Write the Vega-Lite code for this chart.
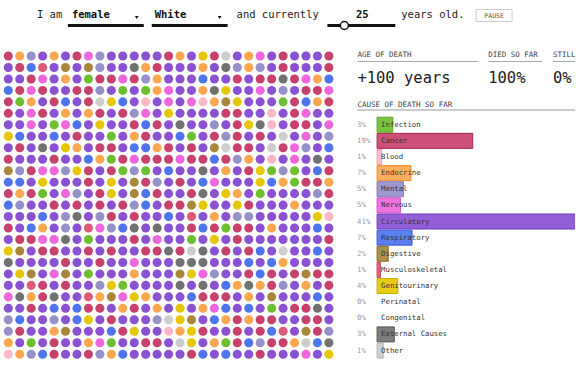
{"$schema":"https://vega.github.io/schema/vega-lite/v6.json","width":576,"height":376,"autosize":{"type":"fit","contains":"padding"},"padding":0,"background":"#ffffff",
"config":{"view":{"stroke":null},"font":"DejaVu Sans Mono","text":{"font":"DejaVu Sans Mono"}},
"datasets":{"dots":[
{"c":0,"r":0,"k":"C"},{"c":1,"r":0,"k":"E"},{"c":2,"r":0,"k":"M"},{"c":3,"r":0,"k":"P"},{"c":4,"r":0,"k":"E"},{"c":5,"r":0,"k":"P"},{"c":6,"r":0,"k":"C"},{"c":7,"r":0,"k":"N"},{"c":8,"r":0,"k":"M"},{"c":9,"r":0,"k":"P"},{"c":10,"r":0,"k":"P"},{"c":11,"r":0,"k":"P"},{"c":12,"r":0,"k":"P"},{"c":13,"r":0,"k":"P"},{"c":14,"r":0,"k":"C"},{"c":15,"r":0,"k":"E"},{"c":16,"r":0,"k":"P"},{"c":17,"r":0,"k":"G"},{"c":18,"r":0,"k":"C"},{"c":19,"r":0,"k":"O"},{"c":20,"r":0,"k":"P"},{"c":21,"r":0,"k":"E"},{"c":22,"r":0,"k":"N"},{"c":23,"r":0,"k":"P"},{"c":24,"r":0,"k":"C"},{"c":25,"r":0,"k":"P"},{"c":26,"r":0,"k":"P"},{"c":27,"r":0,"k":"P"},{"c":28,"r":0,"k":"C"},
{"c":0,"r":1,"k":"P"},{"c":1,"r":1,"k":"C"},{"c":2,"r":1,"k":"R"},{"c":3,"r":1,"k":"K"},{"c":4,"r":1,"k":"P"},{"c":5,"r":1,"k":"D"},{"c":6,"r":1,"k":"P"},{"c":7,"r":1,"k":"D"},{"c":8,"r":1,"k":"M"},{"c":9,"r":1,"k":"P"},{"c":10,"r":1,"k":"P"},{"c":11,"r":1,"k":"X"},{"c":12,"r":1,"k":"E"},{"c":13,"r":1,"k":"C"},{"c":14,"r":1,"k":"P"},{"c":15,"r":1,"k":"P"},{"c":16,"r":1,"k":"P"},{"c":17,"r":1,"k":"E"},{"c":18,"r":1,"k":"P"},{"c":19,"r":1,"k":"X"},{"c":20,"r":1,"k":"M"},{"c":21,"r":1,"k":"E"},{"c":22,"r":1,"k":"M"},{"c":23,"r":1,"k":"P"},{"c":24,"r":1,"k":"C"},{"c":25,"r":1,"k":"P"},{"c":26,"r":1,"k":"P"},{"c":27,"r":1,"k":"P"},{"c":28,"r":1,"k":"C"},
{"c":0,"r":2,"k":"P"},{"c":1,"r":2,"k":"P"},{"c":2,"r":2,"k":"C"},{"c":3,"r":2,"k":"N"},{"c":4,"r":2,"k":"P"},{"c":5,"r":2,"k":"E"},{"c":6,"r":2,"k":"P"},{"c":7,"r":2,"k":"I"},{"c":8,"r":2,"k":"C"},{"c":9,"r":2,"k":"C"},{"c":10,"r":2,"k":"N"},{"c":11,"r":2,"k":"C"},{"c":12,"r":2,"k":"M"},{"c":13,"r":2,"k":"E"},{"c":14,"r":2,"k":"P"},{"c":15,"r":2,"k":"P"},{"c":16,"r":2,"k":"P"},{"c":17,"r":2,"k":"R"},{"c":18,"r":2,"k":"P"},{"c":19,"r":2,"k":"P"},{"c":20,"r":2,"k":"C"},{"c":21,"r":2,"k":"P"},{"c":22,"r":2,"k":"C"},{"c":23,"r":2,"k":"C"},{"c":24,"r":2,"k":"X"},{"c":25,"r":2,"k":"C"},{"c":26,"r":2,"k":"N"},{"c":27,"r":2,"k":"E"},{"c":28,"r":2,"k":"R"},
{"c":0,"r":3,"k":"R"},{"c":1,"r":3,"k":"C"},{"c":2,"r":3,"k":"N"},{"c":3,"r":3,"k":"C"},{"c":4,"r":3,"k":"P"},{"c":5,"r":3,"k":"P"},{"c":6,"r":3,"k":"C"},{"c":7,"r":3,"k":"C"},{"c":8,"r":3,"k":"M"},{"c":9,"r":3,"k":"P"},{"c":10,"r":3,"k":"I"},{"c":11,"r":3,"k":"P"},{"c":12,"r":3,"k":"I"},{"c":13,"r":3,"k":"E"},{"c":14,"r":3,"k":"N"},{"c":15,"r":3,"k":"P"},{"c":16,"r":3,"k":"P"},{"c":17,"r":3,"k":"E"},{"c":18,"r":3,"k":"X"},{"c":19,"r":3,"k":"G"},{"c":20,"r":3,"k":"P"},{"c":21,"r":3,"k":"P"},{"c":22,"r":3,"k":"N"},{"c":23,"r":3,"k":"P"},{"c":24,"r":3,"k":"M"},{"c":25,"r":3,"k":"P"},{"c":26,"r":3,"k":"C"},{"c":27,"r":3,"k":"C"},{"c":28,"r":3,"k":"N"},
{"c":0,"r":4,"k":"C"},{"c":1,"r":4,"k":"I"},{"c":2,"r":4,"k":"E"},{"c":3,"r":4,"k":"P"},{"c":4,"r":4,"k":"C"},{"c":5,"r":4,"k":"R"},{"c":6,"r":4,"k":"P"},{"c":7,"r":4,"k":"C"},{"c":8,"r":4,"k":"O"},{"c":9,"r":4,"k":"G"},{"c":10,"r":4,"k":"R"},{"c":11,"r":4,"k":"P"},{"c":12,"r":4,"k":"B"},{"c":13,"r":4,"k":"P"},{"c":14,"r":4,"k":"N"},{"c":15,"r":4,"k":"P"},{"c":16,"r":4,"k":"N"},{"c":17,"r":4,"k":"B"},{"c":18,"r":4,"k":"E"},{"c":19,"r":4,"k":"D"},{"c":20,"r":4,"k":"G"},{"c":21,"r":4,"k":"P"},{"c":22,"r":4,"k":"P"},{"c":23,"r":4,"k":"P"},{"c":24,"r":4,"k":"I"},{"c":25,"r":4,"k":"C"},{"c":26,"r":4,"k":"R"},{"c":27,"r":4,"k":"E"},{"c":28,"r":4,"k":"C"},
{"c":0,"r":5,"k":"C"},{"c":1,"r":5,"k":"P"},{"c":2,"r":5,"k":"N"},{"c":3,"r":5,"k":"C"},{"c":4,"r":5,"k":"P"},{"c":5,"r":5,"k":"E"},{"c":6,"r":5,"k":"P"},{"c":7,"r":5,"k":"E"},{"c":8,"r":5,"k":"C"},{"c":9,"r":5,"k":"P"},{"c":10,"r":5,"k":"C"},{"c":11,"r":5,"k":"M"},{"c":12,"r":5,"k":"N"},{"c":13,"r":5,"k":"P"},{"c":14,"r":5,"k":"G"},{"c":15,"r":5,"k":"P"},{"c":16,"r":5,"k":"P"},{"c":17,"r":5,"k":"P"},{"c":18,"r":5,"k":"P"},{"c":19,"r":5,"k":"C"},{"c":20,"r":5,"k":"C"},{"c":21,"r":5,"k":"P"},{"c":22,"r":5,"k":"P"},{"c":23,"r":5,"k":"B"},{"c":24,"r":5,"k":"P"},{"c":25,"r":5,"k":"C"},{"c":26,"r":5,"k":"N"},{"c":27,"r":5,"k":"P"},{"c":28,"r":5,"k":"P"},
{"c":0,"r":6,"k":"P"},{"c":1,"r":6,"k":"P"},{"c":2,"r":6,"k":"N"},{"c":3,"r":6,"k":"P"},{"c":4,"r":6,"k":"I"},{"c":5,"r":6,"k":"N"},{"c":6,"r":6,"k":"R"},{"c":7,"r":6,"k":"P"},{"c":8,"r":6,"k":"G"},{"c":9,"r":6,"k":"P"},{"c":10,"r":6,"k":"P"},{"c":11,"r":6,"k":"C"},{"c":12,"r":6,"k":"R"},{"c":13,"r":6,"k":"C"},{"c":14,"r":6,"k":"P"},{"c":15,"r":6,"k":"X"},{"c":16,"r":6,"k":"P"},{"c":17,"r":6,"k":"P"},{"c":18,"r":6,"k":"M"},{"c":19,"r":6,"k":"P"},{"c":20,"r":6,"k":"C"},{"c":21,"r":6,"k":"G"},{"c":22,"r":6,"k":"X"},{"c":23,"r":6,"k":"B"},{"c":24,"r":6,"k":"P"},{"c":25,"r":6,"k":"C"},{"c":26,"r":6,"k":"C"},{"c":27,"r":6,"k":"P"},{"c":28,"r":6,"k":"N"},
{"c":0,"r":7,"k":"G"},{"c":1,"r":7,"k":"R"},{"c":2,"r":7,"k":"P"},{"c":3,"r":7,"k":"P"},{"c":4,"r":7,"k":"R"},{"c":5,"r":7,"k":"P"},{"c":6,"r":7,"k":"C"},{"c":7,"r":7,"k":"P"},{"c":8,"r":7,"k":"P"},{"c":9,"r":7,"k":"I"},{"c":10,"r":7,"k":"P"},{"c":11,"r":7,"k":"E"},{"c":12,"r":7,"k":"C"},{"c":13,"r":7,"k":"P"},{"c":14,"r":7,"k":"P"},{"c":15,"r":7,"k":"R"},{"c":16,"r":7,"k":"I"},{"c":17,"r":7,"k":"P"},{"c":18,"r":7,"k":"C"},{"c":19,"r":7,"k":"M"},{"c":20,"r":7,"k":"C"},{"c":21,"r":7,"k":"P"},{"c":22,"r":7,"k":"C"},{"c":23,"r":7,"k":"P"},{"c":24,"r":7,"k":"O"},{"c":25,"r":7,"k":"P"},{"c":26,"r":7,"k":"N"},{"c":27,"r":7,"k":"P"},{"c":28,"r":7,"k":"M"},
{"c":0,"r":8,"k":"P"},{"c":1,"r":8,"k":"C"},{"c":2,"r":8,"k":"P"},{"c":3,"r":8,"k":"X"},{"c":4,"r":8,"k":"P"},{"c":5,"r":8,"k":"G"},{"c":6,"r":8,"k":"E"},{"c":7,"r":8,"k":"P"},{"c":8,"r":8,"k":"C"},{"c":9,"r":8,"k":"C"},{"c":10,"r":8,"k":"P"},{"c":11,"r":8,"k":"R"},{"c":12,"r":8,"k":"R"},{"c":13,"r":8,"k":"E"},{"c":14,"r":8,"k":"C"},{"c":15,"r":8,"k":"P"},{"c":16,"r":8,"k":"C"},{"c":17,"r":8,"k":"P"},{"c":18,"r":8,"k":"D"},{"c":19,"r":8,"k":"O"},{"c":20,"r":8,"k":"C"},{"c":21,"r":8,"k":"C"},{"c":22,"r":8,"k":"P"},{"c":23,"r":8,"k":"O"},{"c":24,"r":8,"k":"C"},{"c":25,"r":8,"k":"N"},{"c":26,"r":8,"k":"M"},{"c":27,"r":8,"k":"P"},{"c":28,"r":8,"k":"R"},
{"c":0,"r":9,"k":"C"},{"c":1,"r":9,"k":"P"},{"c":2,"r":9,"k":"P"},{"c":3,"r":9,"k":"P"},{"c":4,"r":9,"k":"C"},{"c":5,"r":9,"k":"P"},{"c":6,"r":9,"k":"P"},{"c":7,"r":9,"k":"R"},{"c":8,"r":9,"k":"E"},{"c":9,"r":9,"k":"I"},{"c":10,"r":9,"k":"C"},{"c":11,"r":9,"k":"N"},{"c":12,"r":9,"k":"C"},{"c":13,"r":9,"k":"C"},{"c":14,"r":9,"k":"C"},{"c":15,"r":9,"k":"N"},{"c":16,"r":9,"k":"C"},{"c":17,"r":9,"k":"C"},{"c":18,"r":9,"k":"R"},{"c":19,"r":9,"k":"C"},{"c":20,"r":9,"k":"M"},{"c":21,"r":9,"k":"E"},{"c":22,"r":9,"k":"P"},{"c":23,"r":9,"k":"B"},{"c":24,"r":9,"k":"P"},{"c":25,"r":9,"k":"N"},{"c":26,"r":9,"k":"P"},{"c":27,"r":9,"k":"X"},{"c":28,"r":9,"k":"P"},
{"c":0,"r":10,"k":"D"},{"c":1,"r":10,"k":"M"},{"c":2,"r":10,"k":"C"},{"c":3,"r":10,"k":"N"},{"c":4,"r":10,"k":"N"},{"c":5,"r":10,"k":"M"},{"c":6,"r":10,"k":"G"},{"c":7,"r":10,"k":"C"},{"c":8,"r":10,"k":"P"},{"c":9,"r":10,"k":"C"},{"c":10,"r":10,"k":"I"},{"c":11,"r":10,"k":"M"},{"c":12,"r":10,"k":"I"},{"c":13,"r":10,"k":"P"},{"c":14,"r":10,"k":"R"},{"c":15,"r":10,"k":"P"},{"c":16,"r":10,"k":"P"},{"c":17,"r":10,"k":"X"},{"c":18,"r":10,"k":"P"},{"c":19,"r":10,"k":"E"},{"c":20,"r":10,"k":"P"},{"c":21,"r":10,"k":"C"},{"c":22,"r":10,"k":"G"},{"c":23,"r":10,"k":"I"},{"c":24,"r":10,"k":"M"},{"c":25,"r":10,"k":"I"},{"c":26,"r":10,"k":"P"},{"c":27,"r":10,"k":"R"},{"c":28,"r":10,"k":"C"},
{"c":0,"r":11,"k":"R"},{"c":1,"r":11,"k":"R"},{"c":2,"r":11,"k":"P"},{"c":3,"r":11,"k":"G"},{"c":4,"r":11,"k":"P"},{"c":5,"r":11,"k":"P"},{"c":6,"r":11,"k":"P"},{"c":7,"r":11,"k":"C"},{"c":8,"r":11,"k":"P"},{"c":9,"r":11,"k":"G"},{"c":10,"r":11,"k":"P"},{"c":11,"r":11,"k":"D"},{"c":12,"r":11,"k":"C"},{"c":13,"r":11,"k":"M"},{"c":14,"r":11,"k":"P"},{"c":15,"r":11,"k":"C"},{"c":16,"r":11,"k":"P"},{"c":17,"r":11,"k":"R"},{"c":18,"r":11,"k":"N"},{"c":19,"r":11,"k":"P"},{"c":20,"r":11,"k":"P"},{"c":21,"r":11,"k":"P"},{"c":22,"r":11,"k":"G"},{"c":23,"r":11,"k":"R"},{"c":24,"r":11,"k":"E"},{"c":25,"r":11,"k":"I"},{"c":26,"r":11,"k":"C"},{"c":27,"r":11,"k":"C"},{"c":28,"r":11,"k":"E"},
{"c":0,"r":12,"k":"C"},{"c":1,"r":12,"k":"E"},{"c":2,"r":12,"k":"C"},{"c":3,"r":12,"k":"I"},{"c":4,"r":12,"k":"P"},{"c":5,"r":12,"k":"N"},{"c":6,"r":12,"k":"M"},{"c":7,"r":12,"k":"P"},{"c":8,"r":12,"k":"C"},{"c":9,"r":12,"k":"G"},{"c":10,"r":12,"k":"P"},{"c":11,"r":12,"k":"D"},{"c":12,"r":12,"k":"R"},{"c":13,"r":12,"k":"C"},{"c":14,"r":12,"k":"P"},{"c":15,"r":12,"k":"P"},{"c":16,"r":12,"k":"C"},{"c":17,"r":12,"k":"X"},{"c":18,"r":12,"k":"P"},{"c":19,"r":12,"k":"G"},{"c":20,"r":12,"k":"E"},{"c":21,"r":12,"k":"P"},{"c":22,"r":12,"k":"I"},{"c":23,"r":12,"k":"P"},{"c":24,"r":12,"k":"P"},{"c":25,"r":12,"k":"P"},{"c":26,"r":12,"k":"P"},{"c":27,"r":12,"k":"M"},{"c":28,"r":12,"k":"C"},
{"c":0,"r":13,"k":"R"},{"c":1,"r":13,"k":"M"},{"c":2,"r":13,"k":"P"},{"c":3,"r":13,"k":"P"},{"c":4,"r":13,"k":"C"},{"c":5,"r":13,"k":"P"},{"c":6,"r":13,"k":"C"},{"c":7,"r":13,"k":"P"},{"c":8,"r":13,"k":"C"},{"c":9,"r":13,"k":"P"},{"c":10,"r":13,"k":"C"},{"c":11,"r":13,"k":"M"},{"c":12,"r":13,"k":"R"},{"c":13,"r":13,"k":"P"},{"c":14,"r":13,"k":"C"},{"c":15,"r":13,"k":"C"},{"c":16,"r":13,"k":"D"},{"c":17,"r":13,"k":"G"},{"c":18,"r":13,"k":"P"},{"c":19,"r":13,"k":"P"},{"c":20,"r":13,"k":"G"},{"c":21,"r":13,"k":"C"},{"c":22,"r":13,"k":"P"},{"c":23,"r":13,"k":"P"},{"c":24,"r":13,"k":"P"},{"c":25,"r":13,"k":"E"},{"c":26,"r":13,"k":"P"},{"c":27,"r":13,"k":"P"},{"c":28,"r":13,"k":"P"},
{"c":0,"r":14,"k":"P"},{"c":1,"r":14,"k":"P"},{"c":2,"r":14,"k":"P"},{"c":3,"r":14,"k":"R"},{"c":4,"r":14,"k":"P"},{"c":5,"r":14,"k":"M"},{"c":6,"r":14,"k":"X"},{"c":7,"r":14,"k":"P"},{"c":8,"r":14,"k":"M"},{"c":9,"r":14,"k":"C"},{"c":10,"r":14,"k":"P"},{"c":11,"r":14,"k":"C"},{"c":12,"r":14,"k":"P"},{"c":13,"r":14,"k":"P"},{"c":14,"r":14,"k":"R"},{"c":15,"r":14,"k":"P"},{"c":16,"r":14,"k":"K"},{"c":17,"r":14,"k":"P"},{"c":18,"r":14,"k":"E"},{"c":19,"r":14,"k":"P"},{"c":20,"r":14,"k":"M"},{"c":21,"r":14,"k":"M"},{"c":22,"r":14,"k":"P"},{"c":23,"r":14,"k":"P"},{"c":24,"r":14,"k":"P"},{"c":25,"r":14,"k":"P"},{"c":26,"r":14,"k":"P"},{"c":27,"r":14,"k":"G"},{"c":28,"r":14,"k":"B"},
{"c":0,"r":15,"k":"C"},{"c":1,"r":15,"k":"P"},{"c":2,"r":15,"k":"R"},{"c":3,"r":15,"k":"E"},{"c":4,"r":15,"k":"P"},{"c":5,"r":15,"k":"M"},{"c":6,"r":15,"k":"P"},{"c":7,"r":15,"k":"K"},{"c":8,"r":15,"k":"N"},{"c":9,"r":15,"k":"M"},{"c":10,"r":15,"k":"R"},{"c":11,"r":15,"k":"X"},{"c":12,"r":15,"k":"P"},{"c":13,"r":15,"k":"X"},{"c":14,"r":15,"k":"P"},{"c":15,"r":15,"k":"P"},{"c":16,"r":15,"k":"C"},{"c":17,"r":15,"k":"R"},{"c":18,"r":15,"k":"C"},{"c":19,"r":15,"k":"I"},{"c":20,"r":15,"k":"C"},{"c":21,"r":15,"k":"C"},{"c":22,"r":15,"k":"P"},{"c":23,"r":15,"k":"E"},{"c":24,"r":15,"k":"P"},{"c":25,"r":15,"k":"P"},{"c":26,"r":15,"k":"P"},{"c":27,"r":15,"k":"R"},{"c":28,"r":15,"k":"P"},
{"c":0,"r":16,"k":"P"},{"c":1,"r":16,"k":"C"},{"c":2,"r":16,"k":"C"},{"c":3,"r":16,"k":"N"},{"c":4,"r":16,"k":"N"},{"c":5,"r":16,"k":"X"},{"c":6,"r":16,"k":"P"},{"c":7,"r":16,"k":"I"},{"c":8,"r":16,"k":"P"},{"c":9,"r":16,"k":"P"},{"c":10,"r":16,"k":"P"},{"c":11,"r":16,"k":"C"},{"c":12,"r":16,"k":"P"},{"c":13,"r":16,"k":"N"},{"c":14,"r":16,"k":"P"},{"c":15,"r":16,"k":"P"},{"c":16,"r":16,"k":"I"},{"c":17,"r":16,"k":"P"},{"c":18,"r":16,"k":"G"},{"c":19,"r":16,"k":"P"},{"c":20,"r":16,"k":"C"},{"c":21,"r":16,"k":"P"},{"c":22,"r":16,"k":"P"},{"c":23,"r":16,"k":"P"},{"c":24,"r":16,"k":"P"},{"c":25,"r":16,"k":"P"},{"c":26,"r":16,"k":"P"},{"c":27,"r":16,"k":"P"},{"c":28,"r":16,"k":"C"},
{"c":0,"r":17,"k":"G"},{"c":1,"r":17,"k":"D"},{"c":2,"r":17,"k":"P"},{"c":3,"r":17,"k":"C"},{"c":4,"r":17,"k":"C"},{"c":5,"r":17,"k":"P"},{"c":6,"r":17,"k":"P"},{"c":7,"r":17,"k":"C"},{"c":8,"r":17,"k":"P"},{"c":9,"r":17,"k":"C"},{"c":10,"r":17,"k":"P"},{"c":11,"r":17,"k":"P"},{"c":12,"r":17,"k":"C"},{"c":13,"r":17,"k":"C"},{"c":14,"r":17,"k":"X"},{"c":15,"r":17,"k":"C"},{"c":16,"r":17,"k":"O"},{"c":17,"r":17,"k":"X"},{"c":18,"r":17,"k":"P"},{"c":19,"r":17,"k":"C"},{"c":20,"r":17,"k":"P"},{"c":21,"r":17,"k":"C"},{"c":22,"r":17,"k":"R"},{"c":23,"r":17,"k":"P"},{"c":24,"r":17,"k":"O"},{"c":25,"r":17,"k":"P"},{"c":26,"r":17,"k":"P"},{"c":27,"r":17,"k":"R"},{"c":28,"r":17,"k":"P"},
{"c":0,"r":18,"k":"X"},{"c":1,"r":18,"k":"P"},{"c":2,"r":18,"k":"P"},{"c":3,"r":18,"k":"P"},{"c":4,"r":18,"k":"P"},{"c":5,"r":18,"k":"C"},{"c":6,"r":18,"k":"P"},{"c":7,"r":18,"k":"P"},{"c":8,"r":18,"k":"C"},{"c":9,"r":18,"k":"P"},{"c":10,"r":18,"k":"P"},{"c":11,"r":18,"k":"N"},{"c":12,"r":18,"k":"P"},{"c":13,"r":18,"k":"P"},{"c":14,"r":18,"k":"P"},{"c":15,"r":18,"k":"X"},{"c":16,"r":18,"k":"X"},{"c":17,"r":18,"k":"X"},{"c":18,"r":18,"k":"P"},{"c":19,"r":18,"k":"P"},{"c":20,"r":18,"k":"P"},{"c":21,"r":18,"k":"R"},{"c":22,"r":18,"k":"P"},{"c":23,"r":18,"k":"R"},{"c":24,"r":18,"k":"E"},{"c":25,"r":18,"k":"P"},{"c":26,"r":18,"k":"P"},{"c":27,"r":18,"k":"P"},{"c":28,"r":18,"k":"P"},
{"c":0,"r":19,"k":"P"},{"c":1,"r":19,"k":"G"},{"c":2,"r":19,"k":"D"},{"c":3,"r":19,"k":"P"},{"c":4,"r":19,"k":"N"},{"c":5,"r":19,"k":"D"},{"c":6,"r":19,"k":"P"},{"c":7,"r":19,"k":"I"},{"c":8,"r":19,"k":"P"},{"c":9,"r":19,"k":"P"},{"c":10,"r":19,"k":"P"},{"c":11,"r":19,"k":"E"},{"c":12,"r":19,"k":"P"},{"c":13,"r":19,"k":"P"},{"c":14,"r":19,"k":"P"},{"c":15,"r":19,"k":"D"},{"c":16,"r":19,"k":"G"},{"c":17,"r":19,"k":"N"},{"c":18,"r":19,"k":"M"},{"c":19,"r":19,"k":"P"},{"c":20,"r":19,"k":"P"},{"c":21,"r":19,"k":"C"},{"c":22,"r":19,"k":"R"},{"c":23,"r":19,"k":"C"},{"c":24,"r":19,"k":"P"},{"c":25,"r":19,"k":"C"},{"c":26,"r":19,"k":"D"},{"c":27,"r":19,"k":"C"},{"c":28,"r":19,"k":"C"},
{"c":0,"r":20,"k":"P"},{"c":1,"r":20,"k":"P"},{"c":2,"r":20,"k":"K"},{"c":3,"r":20,"k":"C"},{"c":4,"r":20,"k":"P"},{"c":5,"r":20,"k":"C"},{"c":6,"r":20,"k":"P"},{"c":7,"r":20,"k":"P"},{"c":8,"r":20,"k":"M"},{"c":9,"r":20,"k":"G"},{"c":10,"r":20,"k":"I"},{"c":11,"r":20,"k":"P"},{"c":12,"r":20,"k":"P"},{"c":13,"r":20,"k":"P"},{"c":14,"r":20,"k":"P"},{"c":15,"r":20,"k":"X"},{"c":16,"r":20,"k":"P"},{"c":17,"r":20,"k":"X"},{"c":18,"r":20,"k":"P"},{"c":19,"r":20,"k":"R"},{"c":20,"r":20,"k":"E"},{"c":21,"r":20,"k":"X"},{"c":22,"r":20,"k":"E"},{"c":23,"r":20,"k":"C"},{"c":24,"r":20,"k":"M"},{"c":25,"r":20,"k":"P"},{"c":26,"r":20,"k":"E"},{"c":27,"r":20,"k":"P"},{"c":28,"r":20,"k":"C"},
{"c":0,"r":21,"k":"N"},{"c":1,"r":21,"k":"X"},{"c":2,"r":21,"k":"E"},{"c":3,"r":21,"k":"C"},{"c":4,"r":21,"k":"X"},{"c":5,"r":21,"k":"P"},{"c":6,"r":21,"k":"P"},{"c":7,"r":21,"k":"K"},{"c":8,"r":21,"k":"E"},{"c":9,"r":21,"k":"D"},{"c":10,"r":21,"k":"N"},{"c":11,"r":21,"k":"G"},{"c":12,"r":21,"k":"E"},{"c":13,"r":21,"k":"P"},{"c":14,"r":21,"k":"P"},{"c":15,"r":21,"k":"P"},{"c":16,"r":21,"k":"R"},{"c":17,"r":21,"k":"C"},{"c":18,"r":21,"k":"C"},{"c":19,"r":21,"k":"C"},{"c":20,"r":21,"k":"P"},{"c":21,"r":21,"k":"E"},{"c":22,"r":21,"k":"P"},{"c":23,"r":21,"k":"D"},{"c":24,"r":21,"k":"P"},{"c":25,"r":21,"k":"P"},{"c":26,"r":21,"k":"P"},{"c":27,"r":21,"k":"R"},{"c":28,"r":21,"k":"P"},
{"c":0,"r":22,"k":"P"},{"c":1,"r":22,"k":"P"},{"c":2,"r":22,"k":"C"},{"c":3,"r":22,"k":"P"},{"c":4,"r":22,"k":"R"},{"c":5,"r":22,"k":"P"},{"c":6,"r":22,"k":"R"},{"c":7,"r":22,"k":"C"},{"c":8,"r":22,"k":"C"},{"c":9,"r":22,"k":"P"},{"c":10,"r":22,"k":"E"},{"c":11,"r":22,"k":"C"},{"c":12,"r":22,"k":"P"},{"c":13,"r":22,"k":"E"},{"c":14,"r":22,"k":"P"},{"c":15,"r":22,"k":"G"},{"c":16,"r":22,"k":"P"},{"c":17,"r":22,"k":"E"},{"c":18,"r":22,"k":"N"},{"c":19,"r":22,"k":"R"},{"c":20,"r":22,"k":"P"},{"c":21,"r":22,"k":"R"},{"c":22,"r":22,"k":"P"},{"c":23,"r":22,"k":"I"},{"c":24,"r":22,"k":"P"},{"c":25,"r":22,"k":"C"},{"c":26,"r":22,"k":"C"},{"c":27,"r":22,"k":"X"},{"c":28,"r":22,"k":"P"},
{"c":0,"r":23,"k":"M"},{"c":1,"r":23,"k":"R"},{"c":2,"r":23,"k":"P"},{"c":3,"r":23,"k":"P"},{"c":4,"r":23,"k":"M"},{"c":5,"r":23,"k":"P"},{"c":6,"r":23,"k":"R"},{"c":7,"r":23,"k":"G"},{"c":8,"r":23,"k":"P"},{"c":9,"r":23,"k":"C"},{"c":10,"r":23,"k":"P"},{"c":11,"r":23,"k":"P"},{"c":12,"r":23,"k":"P"},{"c":13,"r":23,"k":"M"},{"c":14,"r":23,"k":"O"},{"c":15,"r":23,"k":"G"},{"c":16,"r":23,"k":"D"},{"c":17,"r":23,"k":"P"},{"c":18,"r":23,"k":"R"},{"c":19,"r":23,"k":"E"},{"c":20,"r":23,"k":"C"},{"c":21,"r":23,"k":"E"},{"c":22,"r":23,"k":"C"},{"c":23,"r":23,"k":"C"},{"c":24,"r":23,"k":"P"},{"c":25,"r":23,"k":"P"},{"c":26,"r":23,"k":"C"},{"c":27,"r":23,"k":"C"},{"c":28,"r":23,"k":"P"},
{"c":0,"r":24,"k":"M"},{"c":1,"r":24,"k":"C"},{"c":2,"r":24,"k":"P"},{"c":3,"r":24,"k":"P"},{"c":4,"r":24,"k":"E"},{"c":5,"r":24,"k":"D"},{"c":6,"r":24,"k":"P"},{"c":7,"r":24,"k":"P"},{"c":8,"r":24,"k":"P"},{"c":9,"r":24,"k":"R"},{"c":10,"r":24,"k":"C"},{"c":11,"r":24,"k":"G"},{"c":12,"r":24,"k":"P"},{"c":13,"r":24,"k":"P"},{"c":14,"r":24,"k":"B"},{"c":15,"r":24,"k":"E"},{"c":16,"r":24,"k":"G"},{"c":17,"r":24,"k":"C"},{"c":18,"r":24,"k":"P"},{"c":19,"r":24,"k":"P"},{"c":20,"r":24,"k":"C"},{"c":21,"r":24,"k":"P"},{"c":22,"r":24,"k":"C"},{"c":23,"r":24,"k":"R"},{"c":24,"r":24,"k":"K"},{"c":25,"r":24,"k":"P"},{"c":26,"r":24,"k":"D"},{"c":27,"r":24,"k":"C"},{"c":28,"r":24,"k":"M"},
{"c":0,"r":25,"k":"E"},{"c":1,"r":25,"k":"P"},{"c":2,"r":25,"k":"I"},{"c":3,"r":25,"k":"P"},{"c":4,"r":25,"k":"C"},{"c":5,"r":25,"k":"P"},{"c":6,"r":25,"k":"P"},{"c":7,"r":25,"k":"E"},{"c":8,"r":25,"k":"N"},{"c":9,"r":25,"k":"I"},{"c":10,"r":25,"k":"P"},{"c":11,"r":25,"k":"P"},{"c":12,"r":25,"k":"C"},{"c":13,"r":25,"k":"C"},{"c":14,"r":25,"k":"P"},{"c":15,"r":25,"k":"O"},{"c":16,"r":25,"k":"G"},{"c":17,"r":25,"k":"P"},{"c":18,"r":25,"k":"E"},{"c":19,"r":25,"k":"I"},{"c":20,"r":25,"k":"C"},{"c":21,"r":25,"k":"R"},{"c":22,"r":25,"k":"M"},{"c":23,"r":25,"k":"C"},{"c":24,"r":25,"k":"C"},{"c":25,"r":25,"k":"E"},{"c":26,"r":25,"k":"O"},{"c":27,"r":25,"k":"R"},{"c":28,"r":25,"k":"X"},
{"c":0,"r":26,"k":"B"},{"c":1,"r":26,"k":"E"},{"c":2,"r":26,"k":"M"},{"c":3,"r":26,"k":"R"},{"c":4,"r":26,"k":"C"},{"c":5,"r":26,"k":"P"},{"c":6,"r":26,"k":"P"},{"c":7,"r":26,"k":"C"},{"c":8,"r":26,"k":"M"},{"c":9,"r":26,"k":"E"},{"c":10,"r":26,"k":"R"},{"c":11,"r":26,"k":"P"},{"c":12,"r":26,"k":"P"},{"c":13,"r":26,"k":"P"},{"c":14,"r":26,"k":"P"},{"c":15,"r":26,"k":"P"},{"c":16,"r":26,"k":"C"},{"c":17,"r":26,"k":"R"},{"c":18,"r":26,"k":"P"},{"c":19,"r":26,"k":"R"},{"c":20,"r":26,"k":"P"},{"c":21,"r":26,"k":"P"},{"c":22,"r":26,"k":"C"},{"c":23,"r":26,"k":"P"},{"c":24,"r":26,"k":"P"},{"c":25,"r":26,"k":"P"},{"c":26,"r":26,"k":"N"},{"c":27,"r":26,"k":"P"},{"c":28,"r":26,"k":"G"}
],
"causes":[
{"cause":"Infection","k":"I","rank":0,"share":0.031},
{"cause":"Cancer","k":"C","rank":1,"share":0.189},
{"cause":"Blood","k":"B","rank":2,"share":0.009},
{"cause":"Endocrine","k":"E","rank":3,"share":0.067},
{"cause":"Mental","k":"M","rank":4,"share":0.052},
{"cause":"Nervous","k":"N","rank":5,"share":0.046},
{"cause":"Circulatory","k":"P","rank":6,"share":0.41},
{"cause":"Respiratory","k":"R","rank":7,"share":0.069},
{"cause":"Digestive","k":"D","rank":8,"share":0.022},
{"cause":"Musculoskeletal","k":"K","rank":9,"share":0.0065},
{"cause":"Genitourinary","k":"G","rank":10,"share":0.041},
{"cause":"Perinatal","k":"A","rank":11,"share":0},
{"cause":"Congenital","k":"Y","rank":12,"share":0},
{"cause":"External Causes","k":"X","rank":13,"share":0.034},
{"cause":"Other","k":"O","rank":14,"share":0.012}
]},
"layer":[
{"data":{"name":"dots"},"mark":{"type":"circle","size":82,"opacity":1},
"encoding":{
"x":{"field":"c","type":"quantitative","scale":{"domain":[-0.724,49.494],"nice":false,"zero":false},"axis":null},
"y":{"field":"r","type":"quantitative","scale":{"domain":[-4.882,27.9],"nice":false,"zero":false,"reverse":true},"axis":null},
"color":{"field":"k","type":"nominal","legend":null,"scale":{"domain":["I","C","B","E","M","N","P","R","D","K","G","A","Y","X","O"],"range":["#6dbf2f","#c8416c","#ffb7c8","#ffa74f","#9791c9","#f067dd","#8a51d3","#4e74ef","#a8873b","#df5a74","#e6c700","#3fb3c4","#2e9c8c","#717171","#cdcdcd"]}}}},
{"data":{"name":"causes"},
"encoding":{"y":{"field":"rank","type":"quantitative","scale":{"domain":[-7.423,15.268],"nice":false,"zero":false,"reverse":true},"axis":null}},
"layer":[
{"mark":{"type":"bar","orient":"horizontal","size":15,"clip":true,"fillOpacity":0.92,"strokeWidth":1},
"encoding":{
"x":{"field":"share","type":"quantitative","stack":null,"scale":{"domain":[-0.745,0.391],"nice":false,"zero":false},"axis":null},
"color":{"field":"k","type":"nominal","legend":null,"scale":{"domain":["I","C","B","E","M","N","P","R","D","K","G","A","Y","X","O"],"range":["#6dbf2f","#c8416c","#ffb7c8","#ffa74f","#9791c9","#f067dd","#8a51d3","#4e74ef","#a8873b","#df5a74","#e6c700","#3fb3c4","#2e9c8c","#717171","#cdcdcd"]}},
"stroke":{"field":"k","type":"nominal","legend":null,"scale":{"domain":["I","C","B","E","M","N","P","R","D","K","G","A","Y","X","O"],"range":["#5aa823","#a8284f","#f59ab0","#f08c30","#7e78b5","#d84cc4","#7438bf","#3558d6","#8c6e28","#c43e58","#c9ad00","#2a9aab","#1d8474","#555555","#b5b5b5"]}},
"strokeOpacity":{"condition":{"test":"datum.share > 0","value":1},"value":0}}},
{"mark":{"type":"text","align":"left","baseline":"middle","dx":-20,"fontSize":7.3,"color":"#9a9a9a"},
"encoding":{"x":{"datum":0,"type":"quantitative","scale":{"domain":[-0.745,0.391],"nice":false,"zero":false},"axis":null},"text":{"field":"share","type":"quantitative","format":".0%"}}},
{"mark":{"type":"text","align":"left","baseline":"middle","dx":4,"fontSize":7.3,"color":"#333333"},
"encoding":{"x":{"datum":0,"type":"quantitative","scale":{"domain":[-0.745,0.391],"nice":false,"zero":false},"axis":null},"text":{"field":"cause","type":"nominal"}}}
]},
{"data":{"values":[{}]},
"layer":[
{"mark":{"type":"text","text":"I am","align":"left","baseline":"middle","fontSize":10.5,"color":"#222222"},"encoding":{"x":{"datum":37,"type":"quantitative","scale":{"domain":[0,576],"nice":false,"zero":false},"axis":null},"y":{"datum":14.5,"type":"quantitative","scale":{"domain":[0,376],"nice":false,"zero":false,"reverse":true},"axis":null}}},
{"mark":{"type":"text","text":"female","align":"left","baseline":"middle","fontSize":10.5,"fontWeight":"bold","color":"#111111"},"encoding":{"x":{"datum":72,"type":"quantitative","scale":{"domain":[0,576],"nice":false,"zero":false},"axis":null},"y":{"datum":14.5,"type":"quantitative","scale":{"domain":[0,376],"nice":false,"zero":false,"reverse":true},"axis":null}}},
{"mark":{"type":"point","shape":"triangle-down","filled":true,"size":14,"color":"#111111","opacity":1},"encoding":{"x":{"datum":137,"type":"quantitative","scale":{"domain":[0,576],"nice":false,"zero":false},"axis":null},"y":{"datum":17.5,"type":"quantitative","scale":{"domain":[0,376],"nice":false,"zero":false,"reverse":true},"axis":null}}},
{"mark":{"type":"rule","strokeWidth":3,"color":"#111111"},"encoding":{"x":{"datum":68,"type":"quantitative","scale":{"domain":[0,576],"nice":false,"zero":false},"axis":null},"x2":{"datum":144},"y":{"datum":25.5,"type":"quantitative","scale":{"domain":[0,376],"nice":false,"zero":false,"reverse":true},"axis":null}}},
{"mark":{"type":"text","text":"White","align":"left","baseline":"middle","fontSize":10.5,"fontWeight":"bold","color":"#111111"},"encoding":{"x":{"datum":155,"type":"quantitative","scale":{"domain":[0,576],"nice":false,"zero":false},"axis":null},"y":{"datum":14.5,"type":"quantitative","scale":{"domain":[0,376],"nice":false,"zero":false,"reverse":true},"axis":null}}},
{"mark":{"type":"point","shape":"triangle-down","filled":true,"size":14,"color":"#111111","opacity":1},"encoding":{"x":{"datum":220,"type":"quantitative","scale":{"domain":[0,576],"nice":false,"zero":false},"axis":null},"y":{"datum":17.5,"type":"quantitative","scale":{"domain":[0,376],"nice":false,"zero":false,"reverse":true},"axis":null}}},
{"mark":{"type":"rule","strokeWidth":3,"color":"#111111"},"encoding":{"x":{"datum":152,"type":"quantitative","scale":{"domain":[0,576],"nice":false,"zero":false},"axis":null},"x2":{"datum":228},"y":{"datum":25.5,"type":"quantitative","scale":{"domain":[0,376],"nice":false,"zero":false,"reverse":true},"axis":null}}},
{"mark":{"type":"text","text":"and currently","align":"left","baseline":"middle","fontSize":10.5,"color":"#222222"},"encoding":{"x":{"datum":237,"type":"quantitative","scale":{"domain":[0,576],"nice":false,"zero":false},"axis":null},"y":{"datum":14.5,"type":"quantitative","scale":{"domain":[0,376],"nice":false,"zero":false,"reverse":true},"axis":null}}},
{"mark":{"type":"rule","strokeWidth":3,"color":"#111111"},"encoding":{"x":{"datum":328,"type":"quantitative","scale":{"domain":[0,576],"nice":false,"zero":false},"axis":null},"x2":{"datum":396},"y":{"datum":25.5,"type":"quantitative","scale":{"domain":[0,376],"nice":false,"zero":false,"reverse":true},"axis":null}}},
{"mark":{"type":"point","shape":"circle","filled":true,"size":64,"fill":"#ffffff","stroke":"#111111","strokeWidth":1.5,"opacity":1},"encoding":{"x":{"datum":345,"type":"quantitative","scale":{"domain":[0,576],"nice":false,"zero":false},"axis":null},"y":{"datum":25.5,"type":"quantitative","scale":{"domain":[0,376],"nice":false,"zero":false,"reverse":true},"axis":null}}},
{"mark":{"type":"text","text":"25","align":"center","baseline":"middle","fontSize":10.5,"fontWeight":"bold","color":"#111111"},"encoding":{"x":{"datum":363,"type":"quantitative","scale":{"domain":[0,576],"nice":false,"zero":false},"axis":null},"y":{"datum":14.5,"type":"quantitative","scale":{"domain":[0,376],"nice":false,"zero":false,"reverse":true},"axis":null}}},
{"mark":{"type":"text","text":"years old.","align":"left","baseline":"middle","fontSize":10.5,"color":"#222222"},"encoding":{"x":{"datum":402,"type":"quantitative","scale":{"domain":[0,576],"nice":false,"zero":false},"axis":null},"y":{"datum":14.5,"type":"quantitative","scale":{"domain":[0,376],"nice":false,"zero":false,"reverse":true},"axis":null}}},
{"mark":{"type":"rect","fill":"#ffffff","stroke":"#cccccc","strokeWidth":1},"encoding":{"x":{"datum":477,"type":"quantitative","scale":{"domain":[0,576],"nice":false,"zero":false},"axis":null},"x2":{"datum":513},"y":{"datum":9.5,"type":"quantitative","scale":{"domain":[0,376],"nice":false,"zero":false,"reverse":true},"axis":null},"y2":{"datum":21.5}}},
{"mark":{"type":"text","text":"PAUSE","align":"center","baseline":"middle","fontSize":6.5,"color":"#555555"},"encoding":{"x":{"datum":495,"type":"quantitative","scale":{"domain":[0,576],"nice":false,"zero":false},"axis":null},"y":{"datum":15.5,"type":"quantitative","scale":{"domain":[0,376],"nice":false,"zero":false,"reverse":true},"axis":null}}},
{"mark":{"type":"text","text":"AGE OF DEATH","align":"left","baseline":"middle","fontSize":7.5,"color":"#444444"},"encoding":{"x":{"datum":358,"type":"quantitative","scale":{"domain":[0,576],"nice":false,"zero":false},"axis":null},"y":{"datum":55,"type":"quantitative","scale":{"domain":[0,376],"nice":false,"zero":false,"reverse":true},"axis":null}}},
{"mark":{"type":"rule","strokeWidth":1,"color":"#aaaaaa"},"encoding":{"x":{"datum":358,"type":"quantitative","scale":{"domain":[0,576],"nice":false,"zero":false},"axis":null},"x2":{"datum":479},"y":{"datum":61.5,"type":"quantitative","scale":{"domain":[0,376],"nice":false,"zero":false,"reverse":true},"axis":null}}},
{"mark":{"type":"text","text":"DIED SO FAR","align":"left","baseline":"middle","fontSize":7.5,"color":"#444444"},"encoding":{"x":{"datum":489,"type":"quantitative","scale":{"domain":[0,576],"nice":false,"zero":false},"axis":null},"y":{"datum":55,"type":"quantitative","scale":{"domain":[0,376],"nice":false,"zero":false,"reverse":true},"axis":null}}},
{"mark":{"type":"rule","strokeWidth":1,"color":"#aaaaaa"},"encoding":{"x":{"datum":489,"type":"quantitative","scale":{"domain":[0,576],"nice":false,"zero":false},"axis":null},"x2":{"datum":543},"y":{"datum":61.5,"type":"quantitative","scale":{"domain":[0,376],"nice":false,"zero":false,"reverse":true},"axis":null}}},
{"mark":{"type":"text","text":"STILL","align":"left","baseline":"middle","fontSize":7.5,"color":"#444444"},"encoding":{"x":{"datum":554,"type":"quantitative","scale":{"domain":[0,576],"nice":false,"zero":false},"axis":null},"y":{"datum":55,"type":"quantitative","scale":{"domain":[0,376],"nice":false,"zero":false,"reverse":true},"axis":null}}},
{"mark":{"type":"rule","strokeWidth":1,"color":"#aaaaaa"},"encoding":{"x":{"datum":554,"type":"quantitative","scale":{"domain":[0,576],"nice":false,"zero":false},"axis":null},"x2":{"datum":576},"y":{"datum":61.5,"type":"quantitative","scale":{"domain":[0,376],"nice":false,"zero":false,"reverse":true},"axis":null}}},
{"mark":{"type":"text","text":"+100 years","align":"left","baseline":"middle","fontSize":15.5,"color":"#222222"},"encoding":{"x":{"datum":358,"type":"quantitative","scale":{"domain":[0,576],"nice":false,"zero":false},"axis":null},"y":{"datum":77.5,"type":"quantitative","scale":{"domain":[0,376],"nice":false,"zero":false,"reverse":true},"axis":null}}},
{"mark":{"type":"text","text":"100%","align":"left","baseline":"middle","fontSize":15.5,"color":"#222222"},"encoding":{"x":{"datum":489,"type":"quantitative","scale":{"domain":[0,576],"nice":false,"zero":false},"axis":null},"y":{"datum":77.5,"type":"quantitative","scale":{"domain":[0,376],"nice":false,"zero":false,"reverse":true},"axis":null}}},
{"mark":{"type":"text","text":"0%","align":"left","baseline":"middle","fontSize":15.5,"color":"#222222"},"encoding":{"x":{"datum":554,"type":"quantitative","scale":{"domain":[0,576],"nice":false,"zero":false},"axis":null},"y":{"datum":77.5,"type":"quantitative","scale":{"domain":[0,376],"nice":false,"zero":false,"reverse":true},"axis":null}}},
{"mark":{"type":"text","text":"CAUSE OF DEATH SO FAR","align":"left","baseline":"middle","fontSize":7.5,"color":"#444444"},"encoding":{"x":{"datum":358,"type":"quantitative","scale":{"domain":[0,576],"nice":false,"zero":false},"axis":null},"y":{"datum":104.5,"type":"quantitative","scale":{"domain":[0,376],"nice":false,"zero":false,"reverse":true},"axis":null}}},
{"mark":{"type":"rule","strokeWidth":1.5,"color":"#bbbbbb"},"encoding":{"x":{"datum":358,"type":"quantitative","scale":{"domain":[0,576],"nice":false,"zero":false},"axis":null},"x2":{"datum":576},"y":{"datum":110,"type":"quantitative","scale":{"domain":[0,376],"nice":false,"zero":false,"reverse":true},"axis":null}}}
]}
],
"resolve":{"scale":{"x":"independent","y":"independent","color":"independent","stroke":"independent"}}
}
